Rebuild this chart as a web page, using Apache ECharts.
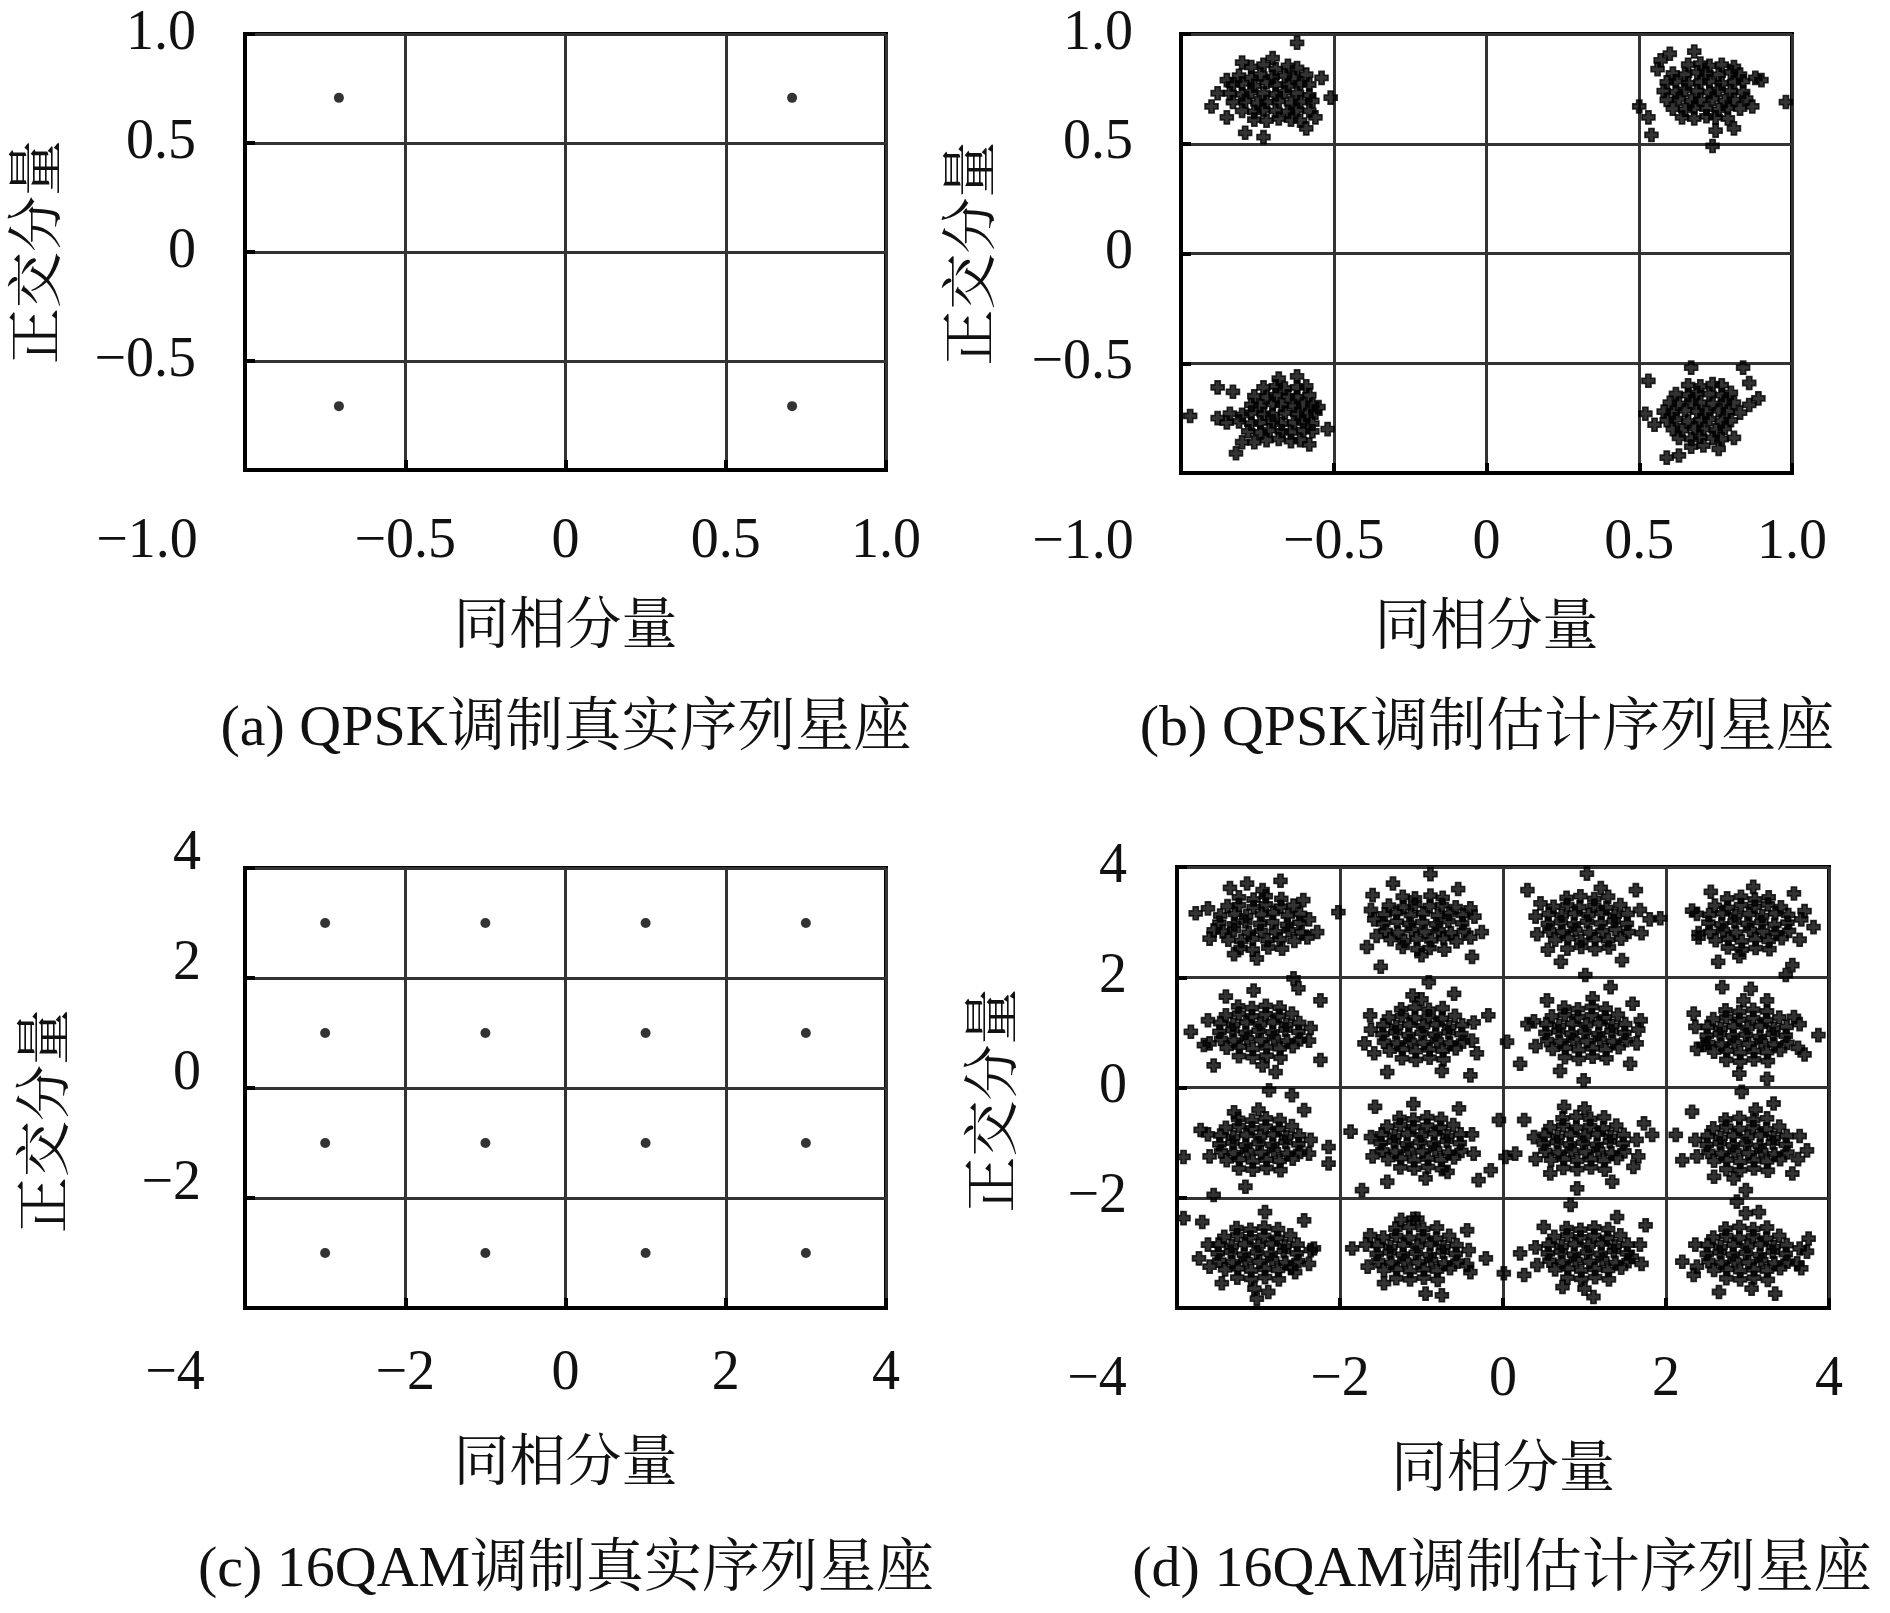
<!DOCTYPE html>
<html>
<head>
<meta charset="utf-8">
<script src="https://cdn.jsdelivr.net/npm/echarts@6/dist/echarts.min.js"></script>
<style>
html, body { margin: 0; padding: 0; background: #fff; }
#main { width: 1890px; height: 1613px; }
</style>
</head>
<body>
<div id="main"></div>
<script>
// ---------- data ----------
const qpskTicks = [-1, -0.5, 0, 0.5, 1];
const qamTicks = [-4, -2, 0, 2, 4];
const xTitle = '同相分量';
const yTitle = '正交分量';
const captions = [
  '(a) QPSK调制真实序列星座',
  '(b) QPSK调制估计序列星座',
  '(c) 16QAM调制真实序列星座',
  '(d) 16QAM调制估计序列星座'
];

// ideal constellations
const qpskIdeal = [[-0.707, 0.707], [0.707, 0.707], [-0.707, -0.707], [0.707, -0.707]];
const qamIdeal = [
  [-3, 3], [-1, 3], [1, 3], [3, 3],
  [-3, 1], [-1, 1], [1, 1], [3, 1],
  [-3, -1], [-1, -1], [1, -1], [3, -1],
  [-3, -3], [-1, -3], [1, -3], [3, -3]
];

// estimated QPSK clusters
const qpskEstTL = [
  [-0.77,0.85],[-0.73,0.86],[-0.69,0.84],[-0.65,0.855],[-0.62,0.845],
  [-0.81,0.81],[-0.77,0.80],[-0.74,0.815],[-0.70,0.805],[-0.66,0.81],[-0.63,0.80],[-0.59,0.815],
  [-0.83,0.77],[-0.80,0.775],[-0.76,0.765],[-0.72,0.78],[-0.69,0.77],[-0.65,0.765],[-0.61,0.775],[-0.58,0.77],
  [-0.84,0.73],[-0.80,0.725],[-0.77,0.735],[-0.73,0.73],[-0.69,0.725],[-0.66,0.735],[-0.62,0.73],[-0.58,0.72],
  [-0.83,0.69],[-0.79,0.695],[-0.75,0.685],[-0.72,0.69],[-0.68,0.695],[-0.64,0.685],[-0.61,0.69],[-0.57,0.695],
  [-0.80,0.65],[-0.76,0.645],[-0.73,0.655],[-0.69,0.65],[-0.65,0.645],[-0.62,0.655],[-0.58,0.65],
  [-0.76,0.61],[-0.72,0.605],[-0.68,0.615],[-0.64,0.61],[-0.61,0.605],
  [-0.62,0.96],[-0.90,0.67],[-0.51,0.71],[-0.85,0.79],[-0.73,0.53],[-0.54,0.80],[-0.56,0.62],
  [-0.85,0.62],[-0.80,0.87],[-0.70,0.89],[-0.59,0.57],[-0.79,0.55],[-0.88,0.73]
];
const qpskEstTR = [
  [0.66,0.86],[0.70,0.865],[0.73,0.855],[0.77,0.86],[0.81,0.85],
  [0.61,0.82],[0.65,0.815],[0.69,0.825],[0.72,0.82],[0.76,0.815],[0.80,0.825],[0.83,0.815],
  [0.59,0.78],[0.62,0.785],[0.66,0.775],[0.70,0.78],[0.73,0.785],[0.77,0.775],[0.81,0.78],[0.84,0.785],
  [0.58,0.74],[0.62,0.735],[0.65,0.745],[0.69,0.74],[0.73,0.735],[0.76,0.745],[0.80,0.74],[0.84,0.735],
  [0.59,0.70],[0.63,0.705],[0.67,0.695],[0.70,0.70],[0.74,0.705],[0.78,0.695],[0.81,0.70],[0.85,0.705],
  [0.61,0.66],[0.65,0.655],[0.68,0.665],[0.72,0.66],[0.76,0.655],[0.79,0.665],[0.83,0.66],
  [0.64,0.62],[0.68,0.615],[0.72,0.625],[0.75,0.62],[0.79,0.615],
  [0.98,0.69],[0.90,0.79],[0.60,0.91],[0.74,0.49],[0.54,0.54],[0.50,0.67],[0.56,0.84],
  [0.87,0.67],[0.81,0.57],[0.75,0.56],[0.53,0.62],[0.57,0.88],[0.88,0.80],[0.68,0.92]
];
const qpskEstBL = [
  [-0.73,-0.61],[-0.69,-0.605],[-0.66,-0.615],[-0.62,-0.61],[-0.59,-0.605],
  [-0.76,-0.65],[-0.72,-0.655],[-0.69,-0.645],[-0.65,-0.65],[-0.62,-0.655],[-0.58,-0.645],
  [-0.77,-0.69],[-0.74,-0.695],[-0.70,-0.685],[-0.67,-0.69],[-0.63,-0.695],[-0.60,-0.685],[-0.57,-0.69],
  [-0.84,-0.73],[-0.80,-0.735],[-0.77,-0.725],[-0.73,-0.73],[-0.70,-0.735],[-0.66,-0.725],[-0.62,-0.73],[-0.59,-0.735],[-0.56,-0.725],
  [-0.85,-0.77],[-0.81,-0.765],[-0.77,-0.775],[-0.74,-0.77],[-0.70,-0.765],[-0.67,-0.775],[-0.63,-0.77],[-0.60,-0.765],[-0.57,-0.775],
  [-0.78,-0.81],[-0.74,-0.815],[-0.71,-0.805],[-0.67,-0.81],[-0.64,-0.815],[-0.60,-0.805],[-0.57,-0.81],
  [-0.72,-0.85],[-0.68,-0.845],[-0.64,-0.855],[-0.61,-0.85],
  [-0.97,-0.74],[-0.82,-0.91],[-0.80,-0.86],[-0.55,-0.70],[-0.52,-0.80],[-0.88,-0.61],
  [-0.88,-0.75],[-0.68,-0.57],[-0.83,-0.63],[-0.62,-0.56],[-0.58,-0.87],[-0.76,-0.86]
];
const qpskEstBR = [
  [0.66,-0.60],[0.70,-0.605],[0.74,-0.595],[0.77,-0.60],
  [0.62,-0.64],[0.66,-0.645],[0.69,-0.635],[0.73,-0.64],[0.77,-0.645],[0.80,-0.635],
  [0.60,-0.68],[0.63,-0.685],[0.67,-0.675],[0.70,-0.68],[0.74,-0.685],[0.78,-0.675],[0.81,-0.68],
  [0.58,-0.72],[0.61,-0.725],[0.65,-0.715],[0.69,-0.72],[0.72,-0.725],[0.76,-0.715],[0.79,-0.72],[0.83,-0.725],
  [0.59,-0.76],[0.62,-0.755],[0.66,-0.765],[0.70,-0.76],[0.73,-0.755],[0.77,-0.765],[0.80,-0.76],
  [0.61,-0.80],[0.64,-0.805],[0.68,-0.795],[0.71,-0.80],[0.75,-0.805],[0.78,-0.795],
  [0.63,-0.84],[0.67,-0.845],[0.70,-0.835],[0.74,-0.84],[0.77,-0.845],
  [0.67,-0.88],[0.71,-0.875],
  [0.89,-0.66],[0.53,-0.58],[0.59,-0.93],[0.67,-0.52],[0.84,-0.52],[0.52,-0.73],
  [0.76,-0.89],[0.86,-0.59],[0.55,-0.78],[0.81,-0.84],[0.63,-0.92],[0.86,-0.69]
];

// estimated 16QAM clusters, row 1 = top
const qamEstR1C1 = [
  [-3.24,3.45],[-3.06,3.41],[-2.91,3.47],[-2.72,3.42],
  [-3.38,3.29],[-3.24,3.31],[-3.06,3.27],[-2.91,3.32],[-2.73,3.28],[-2.57,3.30],
  [-3.47,3.12],[-3.29,3.15],[-3.15,3.11],[-2.96,3.14],[-2.82,3.17],[-2.64,3.12],[-2.49,3.15],
  [-3.48,2.99],[-3.30,2.96],[-3.16,3.01],[-2.98,2.97],[-2.83,3.00],[-2.65,2.95],[-2.50,2.99],
  [-3.44,2.83],[-3.30,2.86],[-3.12,2.81],[-2.97,2.84],[-2.79,2.82],[-2.63,2.85],[-2.47,2.81],
  [-3.37,2.68],[-3.21,2.66],[-3.07,2.70],[-2.89,2.67],[-2.74,2.69],[-2.56,2.66],
  [-3.22,2.53],[-3.07,2.50],[-2.88,2.54],[-2.71,2.52],
  [-3.62,3.25],[-2.38,3.05],[-3.60,2.70],[-2.40,2.72],[-2.95,3.58],
  [-3.77,3.16],[-2.73,3.75],[-2.28,2.82],[-3.02,2.34],[-2.02,3.18],[-3.14,3.70],[-3.55,2.85],[-3.35,3.62],[-2.45,3.40],[-3.30,2.42]
];
const qamEstR1C2 = [
  [-1.23,3.46],[-1.08,3.43],[-0.89,3.48],[-0.74,3.44],
  [-1.40,3.30],[-1.22,3.27],[-1.08,3.32],[-0.90,3.29],[-0.75,3.31],[-0.58,3.27],
  [-1.45,3.14],[-1.31,3.17],[-1.13,3.13],[-0.98,3.16],[-0.80,3.12],[-0.66,3.15],[-0.49,3.13],
  [-1.47,2.98],[-1.30,3.01],[-1.15,2.97],[-0.99,3.00],[-0.82,2.96],[-0.67,3.02],[-0.50,2.98],
  [-1.44,2.84],[-1.29,2.81],[-1.12,2.86],[-0.96,2.82],[-0.79,2.85],[-0.64,2.80],[-0.48,2.84],
  [-1.38,2.69],[-1.21,2.66],[-1.06,2.70],[-0.88,2.67],[-0.73,2.71],[-0.57,2.65],
  [-1.23,2.55],[-1.05,2.51],[-0.90,2.53],[-0.72,2.50],
  [-1.62,3.22],[-0.35,3.10],[-1.55,2.75],[-0.40,2.72],[-1.00,2.40],
  [-0.89,3.87],[-1.67,2.55],[-0.38,2.37],[-1.50,2.19],[-0.26,2.82],[-1.60,3.49],[-0.55,3.60],[-1.35,3.70],[-0.40,3.25],[-1.58,3.05]
];
const qamEstR1C3 = [
  [0.78,3.44],[0.95,3.47],[1.12,3.42],[1.29,3.46],
  [0.62,3.28],[0.79,3.31],[0.94,3.27],[1.12,3.30],[1.27,3.26],[1.44,3.31],
  [0.56,3.15],[0.72,3.12],[0.88,3.16],[1.05,3.13],[1.21,3.17],[1.37,3.12],[1.53,3.15],
  [0.55,2.97],[0.71,3.00],[0.87,2.96],[1.03,3.01],[1.20,2.98],[1.36,3.02],[1.52,2.97],
  [0.57,2.85],[0.73,2.82],[0.89,2.86],[1.06,2.81],[1.22,2.84],[1.38,2.87],[1.54,2.82],
  [0.64,2.68],[0.80,2.71],[0.96,2.66],[1.13,2.69],[1.29,2.67],[1.45,2.70],
  [0.79,2.52],[0.96,2.55],[1.13,2.51],[1.30,2.54],
  [0.40,3.10],[1.68,3.22],[0.42,2.78],[1.70,2.80],[1.20,3.62],
  [1.03,3.88],[0.30,3.58],[1.93,3.07],[1.63,3.58],[0.71,2.28],[1.01,2.04],[0.46,3.34],[1.46,2.31],[1.80,3.05],[0.55,2.50]
];
const qamEstR1C4 = [
  [2.75,3.43],[2.92,3.46],[3.09,3.41],[3.26,3.45],
  [2.60,3.30],[2.76,3.26],[2.92,3.31],[3.09,3.28],[3.25,3.32],[3.41,3.27],
  [2.53,3.13],[2.69,3.16],[2.85,3.12],[3.02,3.15],[3.18,3.11],[3.34,3.16],[3.50,3.13],
  [2.52,2.99],[2.68,2.96],[2.84,3.01],[3.00,2.97],[3.17,3.00],[3.33,2.95],[3.49,2.99],
  [2.54,2.82],[2.70,2.85],[2.86,2.81],[3.03,2.86],[3.19,2.83],[3.35,2.80],[3.51,2.84],
  [2.61,2.67],[2.77,2.70],[2.93,2.65],[3.10,2.69],[3.26,2.66],[3.42,2.71],
  [2.76,2.54],[2.93,2.50],[3.10,2.53],[3.27,2.51],
  [2.38,3.15],[3.66,3.05],[2.40,2.72],[3.64,2.68],[2.90,2.38],
  [2.55,3.55],[2.32,3.21],[3.57,3.52],[3.81,2.91],[3.55,2.22],[3.47,2.04],[2.64,2.28],[3.07,3.64],[2.40,2.80],[3.70,3.20]
];
const qamEstR2C1 = [
  [-3.25,1.47],[-3.08,1.44],[-2.91,1.48],[-2.74,1.45],
  [-3.40,1.31],[-3.24,1.34],[-3.08,1.29],[-2.91,1.33],[-2.75,1.30],[-2.59,1.34],
  [-3.47,1.17],[-3.31,1.14],[-3.15,1.18],[-2.98,1.15],[-2.82,1.19],[-2.66,1.14],[-2.50,1.17],
  [-3.48,1.01],[-3.32,1.04],[-3.16,0.99],[-3.00,1.03],[-2.83,1.00],[-2.67,1.05],[-2.51,1.01],
  [-3.46,0.88],[-3.30,0.85],[-3.14,0.89],[-2.97,0.86],[-2.81,0.90],[-2.65,0.84],[-2.49,0.87],
  [-3.39,0.72],[-3.23,0.74],[-3.07,0.70],[-2.90,0.73],[-2.74,0.71],[-2.58,0.75],
  [-3.24,0.57],[-3.07,0.55],[-2.90,0.58],[-2.73,0.54],
  [-3.62,1.22],[-2.36,1.08],[-3.60,0.80],[-2.38,0.85],[-2.95,0.40],
  [-3.83,1.01],[-2.24,1.58],[-2.57,1.98],[-2.51,1.80],[-2.79,0.28],[-3.55,0.40],[-2.24,0.50],[-3.67,0.77],[-3.06,1.76],[-3.40,1.65]
];
const qamEstR2C2 = [
  [-1.25,1.42],[-1.08,1.45],[-0.91,1.41],[-0.74,1.44],
  [-1.40,1.27],[-1.24,1.30],[-1.08,1.26],[-0.91,1.29],[-0.75,1.25],[-0.59,1.30],
  [-1.47,1.13],[-1.31,1.10],[-1.15,1.14],[-0.98,1.11],[-0.82,1.15],[-0.66,1.10],[-0.50,1.13],
  [-1.48,0.97],[-1.32,1.00],[-1.16,0.95],[-1.00,0.99],[-0.83,0.96],[-0.67,1.00],[-0.51,0.97],
  [-1.46,0.83],[-1.30,0.80],[-1.14,0.84],[-0.97,0.81],[-0.81,0.85],[-0.65,0.80],[-0.49,0.83],
  [-1.39,0.67],[-1.23,0.70],[-1.07,0.66],[-0.90,0.69],[-0.74,0.67],[-0.58,0.71],
  [-1.24,0.53],[-1.07,0.50],[-0.90,0.54],[-0.73,0.51],
  [-1.62,1.05],[-0.36,1.18],[-1.58,0.62],[-0.38,0.85],[-1.00,1.60],
  [-0.91,1.91],[-0.18,1.31],[-0.32,0.62],[-0.40,0.22],[-1.42,0.28],[-1.63,1.31],[-1.11,1.67],[-1.70,0.80],[-0.60,1.70],[-0.75,0.30]
];
const qamEstR2C3 = [
  [0.75,1.45],[0.92,1.42],[1.09,1.46],[1.26,1.43],
  [0.60,1.29],[0.76,1.32],[0.92,1.28],[1.09,1.31],[1.25,1.27],[1.41,1.32],
  [0.53,1.15],[0.69,1.12],[0.85,1.16],[1.02,1.13],[1.18,1.17],[1.34,1.12],[1.50,1.15],
  [0.52,0.99],[0.68,1.02],[0.84,0.98],[1.00,1.01],[1.17,0.97],[1.33,1.02],[1.49,0.99],
  [0.54,0.86],[0.70,0.83],[0.86,0.87],[1.03,0.84],[1.19,0.88],[1.35,0.83],[1.51,0.86],
  [0.61,0.70],[0.77,0.72],[0.93,0.68],[1.10,0.71],[1.26,0.69],[1.42,0.73],
  [0.76,0.55],[0.93,0.52],[1.10,0.56],[1.27,0.53],
  [0.38,1.20],[1.66,1.05],[0.40,0.75],[1.64,0.80],[1.10,1.62],
  [0.05,0.83],[0.21,0.43],[1.32,1.82],[0.99,0.13],[1.59,1.52],[1.56,0.43],[1.69,1.22],[0.54,1.58],[0.30,1.15],[0.70,0.30]
];
const qamEstR2C4 = [
  [2.73,1.40],[2.90,1.37],[3.07,1.41],[3.24,1.38],
  [2.58,1.24],[2.74,1.27],[2.90,1.23],[3.07,1.26],[3.23,1.22],[3.39,1.27],
  [2.51,1.10],[2.67,1.07],[2.83,1.11],[3.00,1.08],[3.16,1.12],[3.32,1.07],[3.48,1.10],
  [2.50,0.94],[2.66,0.97],[2.82,0.93],[2.98,0.96],[3.15,0.92],[3.31,0.97],[3.47,0.94],
  [2.52,0.81],[2.68,0.78],[2.84,0.82],[3.01,0.79],[3.17,0.83],[3.33,0.78],[3.49,0.81],
  [2.59,0.65],[2.75,0.67],[2.91,0.63],[3.08,0.66],[3.24,0.64],[3.40,0.68],
  [2.74,0.50],[2.91,0.47],[3.08,0.51],[3.25,0.48],
  [2.36,1.10],[3.64,1.15],[2.38,0.70],[3.62,0.72],[2.95,1.58],
  [3.87,0.95],[2.34,1.34],[2.69,1.82],[3.04,1.79],[3.24,1.58],[3.24,0.16],[3.57,1.28],[2.46,0.77],[2.90,0.25],[3.70,0.60]
];
const qamEstR3C1 = [
  [-3.25,-0.57],[-3.08,-0.60],[-2.91,-0.56],[-2.74,-0.59],
  [-3.40,-0.73],[-3.24,-0.70],[-3.08,-0.74],[-2.91,-0.71],[-2.75,-0.75],[-2.59,-0.70],
  [-3.47,-0.87],[-3.31,-0.90],[-3.15,-0.86],[-2.98,-0.89],[-2.82,-0.85],[-2.66,-0.90],[-2.50,-0.87],
  [-3.48,-1.03],[-3.32,-1.00],[-3.16,-1.05],[-3.00,-1.01],[-2.83,-1.04],[-2.67,-0.99],[-2.51,-1.03],
  [-3.46,-1.16],[-3.30,-1.19],[-3.14,-1.15],[-2.97,-1.18],[-2.81,-1.14],[-2.65,-1.20],[-2.49,-1.17],
  [-3.39,-1.32],[-3.23,-1.30],[-3.07,-1.34],[-2.90,-1.31],[-2.74,-1.33],[-2.58,-1.29],
  [-3.24,-1.47],[-3.07,-1.49],[-2.90,-1.46],[-2.73,-1.50],
  [-3.62,-0.85],[-2.36,-0.95],[-3.60,-1.25],[-2.38,-1.20],[-3.00,-0.40],
  [-3.92,-1.26],[-3.71,-0.77],[-2.14,-1.08],[-2.14,-1.38],[-3.16,-1.80],[-3.55,-1.95],[-2.87,-0.05],[-2.59,-0.14],[-2.44,-0.41],[-3.30,-0.45]
];
const qamEstR3C2 = [
  [-1.27,-0.55],[-1.10,-0.58],[-0.93,-0.54],[-0.76,-0.57],
  [-1.42,-0.71],[-1.26,-0.68],[-1.10,-0.72],[-0.93,-0.69],[-0.77,-0.73],[-0.61,-0.68],
  [-1.49,-0.85],[-1.33,-0.88],[-1.17,-0.84],[-1.00,-0.87],[-0.84,-0.83],[-0.68,-0.88],[-0.52,-0.85],
  [-1.50,-1.01],[-1.34,-0.98],[-1.18,-1.03],[-1.02,-0.99],[-0.85,-1.02],[-0.69,-0.97],[-0.53,-1.01],
  [-1.48,-1.14],[-1.32,-1.17],[-1.16,-1.13],[-0.99,-1.16],[-0.83,-1.12],[-0.67,-1.18],[-0.51,-1.15],
  [-1.41,-1.30],[-1.25,-1.28],[-1.09,-1.32],[-0.92,-1.29],[-0.76,-1.31],[-0.60,-1.27],
  [-1.26,-1.45],[-1.09,-1.47],[-0.92,-1.44],[-0.75,-1.48],
  [-1.62,-0.90],[-0.38,-0.85],[-1.60,-1.25],[-0.36,-1.20],[-0.95,-1.65],
  [-1.87,-0.80],[-1.73,-1.86],[-0.05,-0.59],[-0.15,-1.50],[-0.30,-1.68],[-1.42,-1.71],[-1.57,-0.35],[-0.54,-0.38],[-0.68,-1.53],[-1.10,-0.30]
];
const qamEstR3C3 = [
  [0.73,-0.56],[0.90,-0.53],[1.07,-0.57],[1.24,-0.54],
  [0.58,-0.72],[0.74,-0.69],[0.90,-0.73],[1.07,-0.70],[1.23,-0.74],[1.39,-0.69],
  [0.51,-0.86],[0.67,-0.89],[0.83,-0.85],[1.00,-0.88],[1.16,-0.84],[1.32,-0.89],[1.48,-0.86],
  [0.50,-1.02],[0.66,-0.99],[0.82,-1.03],[0.98,-1.00],[1.15,-1.04],[1.31,-0.98],[1.47,-1.02],
  [0.52,-1.15],[0.68,-1.18],[0.84,-1.14],[1.01,-1.17],[1.17,-1.13],[1.33,-1.19],[1.49,-1.16],
  [0.59,-1.31],[0.75,-1.29],[0.91,-1.33],[1.08,-1.30],[1.24,-1.32],[1.40,-1.28],
  [0.74,-1.46],[0.91,-1.48],[1.08,-1.45],[1.25,-1.49],
  [0.38,-0.90],[1.64,-0.95],[0.40,-1.30],[1.66,-1.25],[1.00,-0.38],
  [0.03,-1.26],[0.15,-1.20],[0.75,-0.35],[0.26,-0.59],[1.83,-0.86],[1.73,-0.65],[1.34,-1.71],[0.91,-1.83],[0.58,-1.56],[1.60,-1.44]
];
const qamEstR3C4 = [
  [2.73,-0.58],[2.90,-0.55],[3.07,-0.59],[3.24,-0.56],
  [2.58,-0.74],[2.74,-0.71],[2.90,-0.75],[3.07,-0.72],[3.23,-0.76],[3.39,-0.71],
  [2.51,-0.88],[2.67,-0.91],[2.83,-0.87],[3.00,-0.90],[3.16,-0.86],[3.32,-0.91],[3.48,-0.88],
  [2.50,-1.04],[2.66,-1.01],[2.82,-1.05],[2.98,-1.02],[3.15,-1.06],[3.31,-1.00],[3.47,-1.04],
  [2.52,-1.17],[2.68,-1.20],[2.84,-1.16],[3.01,-1.19],[3.17,-1.15],[3.33,-1.21],[3.49,-1.18],
  [2.59,-1.33],[2.75,-1.31],[2.91,-1.35],[3.08,-1.32],[3.24,-1.34],[3.40,-1.30],
  [2.74,-1.48],[2.91,-1.50],[3.08,-1.47],[3.25,-1.51],
  [2.36,-0.95],[3.64,-0.88],[2.38,-1.25],[3.62,-1.30],[3.10,-0.40],
  [2.12,-0.86],[2.20,-1.32],[2.32,-0.44],[3.32,-0.29],[2.93,-0.08],[3.73,-1.14],[3.55,-1.56],[2.98,-1.86],[2.59,-1.62],[2.83,-1.65]
];
const qamEstR4C1 = [
  [-3.27,-2.55],[-3.10,-2.58],[-2.93,-2.54],[-2.76,-2.57],
  [-3.42,-2.71],[-3.26,-2.68],[-3.10,-2.72],[-2.93,-2.69],[-2.77,-2.73],[-2.61,-2.68],
  [-3.49,-2.85],[-3.33,-2.88],[-3.17,-2.84],[-3.00,-2.87],[-2.84,-2.83],[-2.68,-2.88],[-2.52,-2.85],
  [-3.50,-3.01],[-3.34,-2.98],[-3.18,-3.03],[-3.02,-2.99],[-2.85,-3.02],[-2.69,-2.97],[-2.53,-3.01],
  [-3.48,-3.14],[-3.32,-3.17],[-3.16,-3.13],[-2.99,-3.16],[-2.83,-3.12],[-2.67,-3.18],[-2.51,-3.15],
  [-3.41,-3.30],[-3.25,-3.28],[-3.09,-3.32],[-2.92,-3.29],[-2.76,-3.31],[-2.60,-3.27],
  [-3.26,-3.45],[-3.09,-3.47],[-2.92,-3.44],[-2.75,-3.48],
  [-3.62,-2.85],[-2.36,-2.95],[-3.60,-3.25],[-2.38,-3.20],[-3.05,-3.65],
  [-3.92,-2.37],[-3.69,-2.44],[-2.44,-2.41],[-2.32,-2.92],[-3.02,-3.83],[-2.88,-3.71],[-3.73,-3.10],[-2.92,-2.26],[-3.45,-3.55],[-2.55,-3.35]
];
const qamEstR4C2 = [
  [-1.32,-2.56],[-1.15,-2.53],[-0.98,-2.57],[-0.81,-2.54],
  [-1.47,-2.72],[-1.31,-2.69],[-1.15,-2.73],[-0.98,-2.70],[-0.82,-2.74],[-0.66,-2.69],
  [-1.54,-2.86],[-1.38,-2.89],[-1.22,-2.85],[-1.05,-2.88],[-0.89,-2.84],[-0.73,-2.89],[-0.57,-2.86],
  [-1.55,-3.02],[-1.39,-2.99],[-1.23,-3.03],[-1.07,-3.00],[-0.90,-3.04],[-0.74,-2.98],[-0.58,-3.02],
  [-1.53,-3.15],[-1.37,-3.18],[-1.21,-3.14],[-1.04,-3.17],[-0.88,-3.13],[-0.72,-3.19],[-0.56,-3.16],
  [-1.46,-3.31],[-1.30,-3.29],[-1.14,-3.33],[-0.97,-3.30],[-0.81,-3.32],[-0.65,-3.28],
  [-1.31,-3.46],[-1.14,-3.48],[-0.97,-3.45],[-0.80,-3.49],
  [-1.68,-2.85],[-0.42,-2.95],[-1.66,-3.25],[-0.44,-3.22],[-1.10,-2.38],
  [-1.85,-2.92],[-0.21,-3.10],[-0.95,-3.74],[-0.75,-3.77],[-1.46,-3.55],[-0.44,-2.59],[-1.05,-2.38],[-1.63,-2.68],[-0.40,-3.35],[-1.25,-2.40]
];
const qamEstR4C3 = [
  [0.78,-2.55],[0.95,-2.58],[1.12,-2.54],[1.29,-2.57],
  [0.63,-2.71],[0.79,-2.68],[0.95,-2.72],[1.12,-2.69],[1.28,-2.73],[1.44,-2.68],
  [0.56,-2.85],[0.72,-2.88],[0.88,-2.84],[1.05,-2.87],[1.21,-2.83],[1.37,-2.88],[1.53,-2.85],
  [0.55,-3.01],[0.71,-2.98],[0.87,-3.03],[1.03,-2.99],[1.20,-3.02],[1.36,-2.97],[1.52,-3.01],
  [0.57,-3.14],[0.73,-3.17],[0.89,-3.13],[1.06,-3.16],[1.22,-3.12],[1.38,-3.18],[1.54,-3.15],
  [0.64,-3.30],[0.80,-3.28],[0.96,-3.32],[1.13,-3.29],[1.29,-3.31],[1.45,-3.27],
  [0.79,-3.45],[0.96,-3.47],[1.13,-3.44],[1.30,-3.48],
  [0.40,-2.90],[1.68,-2.85],[0.42,-3.22],[1.70,-3.20],[1.00,-3.65],
  [0.01,-3.37],[0.21,-3.01],[0.83,-2.13],[1.75,-2.50],[1.11,-3.80],[0.73,-3.62],[0.26,-3.40],[0.50,-2.53],[1.58,-3.07],[1.40,-2.35]
];
const qamEstR4C4 = [
  [2.73,-2.56],[2.90,-2.53],[3.07,-2.57],[3.24,-2.54],
  [2.58,-2.72],[2.74,-2.69],[2.90,-2.73],[3.07,-2.70],[3.23,-2.74],[3.39,-2.69],
  [2.51,-2.86],[2.67,-2.89],[2.83,-2.85],[3.00,-2.88],[3.16,-2.84],[3.32,-2.89],[3.48,-2.86],
  [2.50,-3.02],[2.66,-2.99],[2.82,-3.03],[2.98,-3.00],[3.15,-3.04],[3.31,-2.98],[3.47,-3.02],
  [2.52,-3.15],[2.68,-3.18],[2.84,-3.14],[3.01,-3.17],[3.17,-3.13],[3.33,-3.19],[3.49,-3.16],
  [2.59,-3.31],[2.75,-3.29],[2.91,-3.33],[3.08,-3.30],[3.24,-3.32],[3.40,-3.28],
  [2.74,-3.46],[2.91,-3.48],[3.08,-3.45],[3.25,-3.49],
  [2.36,-2.85],[3.64,-2.92],[2.38,-3.25],[3.66,-3.28],[3.05,-3.65],
  [2.87,-2.07],[2.98,-2.28],[3.14,-2.26],[3.75,-2.74],[3.73,-2.98],[2.20,-3.16],[2.34,-3.40],[3.34,-3.74],[2.65,-3.71],[3.61,-3.19]
];

// ---------- chart ----------
const FONT = "'Liberation Serif', 'Noto Serif CJK SC', 'Noto Sans CJK SC', serif";
const FS = 56;
const TXT = '#111';
const MINUS = '\u2212';
const PLUS = 'path://M3,0H7V3H10V7H7V10H3V7H0V3H3Z';
const markStyle = { color: '#000', borderColor: '#000', borderWidth: 1.6 };

function fmtQpsk(v) { return v === 0 ? '0' : (v < 0 ? MINUS : '') + Math.abs(v).toFixed(1); }
function fmtQam(v) { return v === 0 ? '0' : (v < 0 ? MINUS : '') + Math.abs(v); }

function xAxisOf(gi, ticks, fmt, margin, cornerPad, nameGap) {
  return {
    type: 'value', gridIndex: gi,
    min: ticks[0], max: ticks[ticks.length - 1], interval: ticks[1] - ticks[0],
    name: xTitle, nameLocation: 'middle', nameGap: nameGap,
    nameTextStyle: { fontSize: FS, fontFamily: FONT, color: TXT },
    axisLine: { show: true, onZero: false, lineStyle: { color: '#000', width: 4 } },
    axisTick: { show: true, inside: true, length: 10, lineStyle: { color: '#000', width: 4 } },
    splitLine: { show: true, lineStyle: { color: '#333', width: 3 } },
    axisLabel: {
      fontSize: FS, fontFamily: FONT, color: TXT, margin: margin,
      formatter: v => v === ticks[0] ? '{c|' + fmt(v) + '}' : fmt(v),
      rich: { c: { fontSize: FS, fontFamily: FONT, color: TXT, padding: [0, cornerPad, 0, 0] } }
    }
  };
}

function yAxisOf(gi, ticks, fmt, margin, liftPad, nameGap, namePad) {
  return {
    type: 'value', gridIndex: gi,
    min: ticks[0], max: ticks[ticks.length - 1], interval: ticks[1] - ticks[0],
    name: yTitle, nameLocation: 'middle', nameGap: nameGap, nameRotate: 90,
    nameTextStyle: { fontSize: FS, fontFamily: FONT, color: TXT, padding: namePad },
    axisLine: { show: true, onZero: false, lineStyle: { color: '#000', width: 4 } },
    axisTick: { show: true, inside: true, length: 10, lineStyle: { color: '#000', width: 4 } },
    splitLine: { show: true, lineStyle: { color: '#333', width: 3 } },
    axisLabel: {
      fontSize: FS, fontFamily: FONT, color: TXT, margin: margin,
      formatter: v => v === ticks[0] ? '' : '{u|' + fmt(v) + '}',
      rich: { u: { fontSize: FS, fontFamily: FONT, color: TXT, padding: [0, 0, liftPad, 0] } }
    }
  };
}

const gridBox = { show: true, borderColor: '#000', borderWidth: 4, backgroundColor: 'transparent' };

const qpskEst = [].concat(qpskEstTL, qpskEstTR, qpskEstBL, qpskEstBR);
const qamEst = [].concat(
  qamEstR1C1, qamEstR1C2, qamEstR1C3, qamEstR1C4,
  qamEstR2C1, qamEstR2C2, qamEstR2C3, qamEstR2C4,
  qamEstR3C1, qamEstR3C2, qamEstR3C3, qamEstR3C4,
  qamEstR4C1, qamEstR4C2, qamEstR4C3, qamEstR4C4
);

const capPos = [[566, 730], [1487, 730], [566, 1571], [1502, 1571]];

const chart = echarts.init(document.getElementById('main'));
chart.setOption({
  animation: false,
  backgroundColor: '#fff',
  grid: [
    Object.assign({ left: 245, top: 34, width: 641, height: 436 }, gridBox),
    Object.assign({ left: 1181, top: 34, width: 611, height: 439 }, gridBox),
    Object.assign({ left: 245, top: 868, width: 641, height: 440 }, gridBox),
    Object.assign({ left: 1177, top: 867, width: 652, height: 441 }, gridBox)
  ],
  xAxis: [
    xAxisOf(0, qpskTicks, fmtQpsk, 44, 196, 130),
    xAxisOf(1, qpskTicks, fmtQpsk, 42, 196, 128),
    xAxisOf(2, qamTicks, fmtQam, 38, 140, 129),
    xAxisOf(3, qamTicks, fmtQam, 44, 160, 135)
  ],
  yAxis: [
    yAxisOf(0, qpskTicks, fmtQpsk, 49, 0, 177, 0),
    yAxisOf(1, qpskTicks, fmtQpsk, 48, 0, 179, 0),
    yAxisOf(2, qamTicks, fmtQam, 44, 28, 169, [0, 66, 0, 0]),
    yAxisOf(3, qamTicks, fmtQam, 50, 0, 153, [0, 26, 0, 0])
  ],
  series: [
    { type: 'scatter', xAxisIndex: 0, yAxisIndex: 0, data: qpskIdeal,
      symbol: 'circle', symbolSize: 10, itemStyle: { color: '#000' } },
    { type: 'scatter', xAxisIndex: 1, yAxisIndex: 1, data: qpskEst,
      symbol: PLUS, symbolSize: 13, itemStyle: markStyle },
    { type: 'scatter', xAxisIndex: 2, yAxisIndex: 2, data: qamIdeal,
      symbol: 'circle', symbolSize: 10, itemStyle: { color: '#000' } },
    { type: 'scatter', xAxisIndex: 3, yAxisIndex: 3, data: qamEst,
      symbol: PLUS, symbolSize: 13, itemStyle: markStyle }
  ],
  graphic: captions.map((t, i) => ({
    type: 'text', x: capPos[i][0], y: capPos[i][1],
    style: { text: t, fontSize: 58, fontFamily: FONT, fill: TXT, align: 'center', verticalAlign: 'middle' }
  }))
});
</script>
</body>
</html>
